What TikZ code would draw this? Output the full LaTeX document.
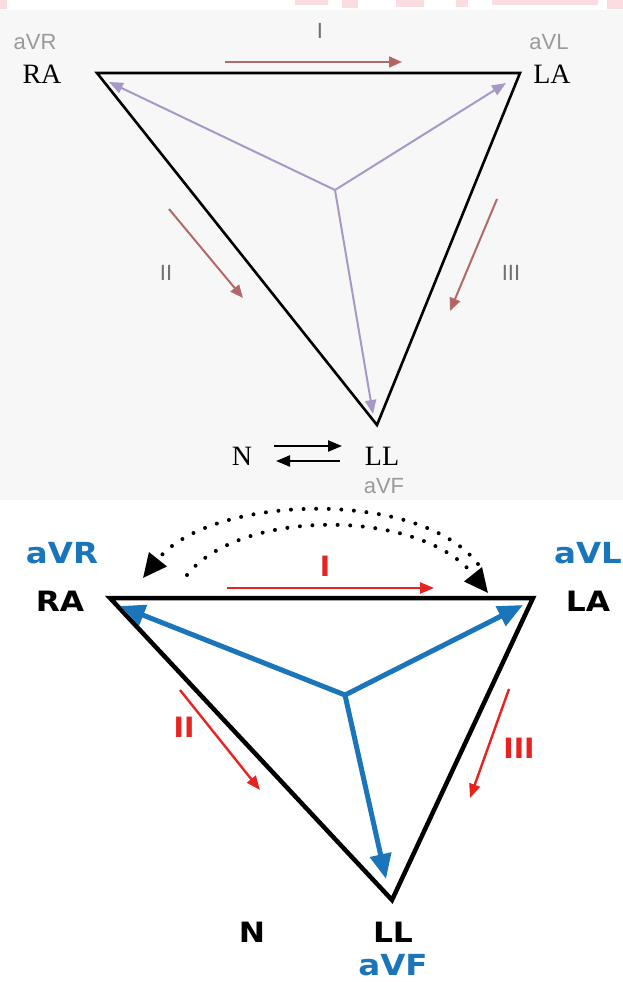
\documentclass[tikz,border=0pt]{standalone}
\usepackage{fontspec}
\setmainfont{Liberation Serif}
\newfontfamily\arialf{Liberation Sans}
\newfontfamily\dvs{DejaVu Sans}
\usetikzlibrary{arrows.meta}
\definecolor{tgray}{HTML}{9A9A9A}
\definecolor{rgray}{HTML}{707070}
\definecolor{brarr}{HTML}{B06A6A}
\definecolor{purp}{HTML}{A898C8}
\definecolor{blu}{HTML}{1B75BB}
\definecolor{redc}{HTML}{E8231F}
\definecolor{pinkwm}{HTML}{FBDCE1}
\tikzset{
  serifl/.style={font=\fontsize{28}{28}\selectfont, text=black, inner sep=0pt},
  sansg/.style={font=\arialf\fontsize{22}{22}\selectfont, text=tgray, inner sep=0pt},
  romg/.style={font=\arialf\fontsize{22}{22}\selectfont, text=rgray, inner sep=0pt},
  boldk/.style={font=\dvs\bfseries\fontsize{28}{28}\selectfont, text=black, inner sep=0pt, xscale=1.12},
  boldb/.style={font=\dvs\bfseries\fontsize{29}{29}\selectfont, text=blu, inner sep=0pt, xscale=1.12},
  boldr/.style={font=\dvs\bfseries\fontsize{28}{28}\selectfont, text=redc, inner sep=0pt, xscale=1.0},
  tri1/.style={draw=black, line width=2.6pt, line join=miter},
  tri2/.style={draw=black, line width=4.5pt, line join=miter},
  brownarr/.style={draw=brarr, line width=2pt, -{Triangle[length=13pt,width=11pt,fill=brarr!90!red]}},
  purarr/.style={draw=purp, line width=2pt, -{Triangle[length=14pt,width=11pt]}},
  smallblk/.style={draw=black, line width=2.2pt, -{Triangle[length=14pt,width=11pt]}},
  redarr/.style={draw=redc, line width=2.4pt, -{Triangle[length=14pt,width=11pt]}},
  bluarr/.style={draw=blu, line width=5pt, -{Triangle[length=25pt,width=21pt]}},
  dotarc/.style={draw=black, line width=4pt, line cap=round, dash pattern=on 0pt off 12.6pt, -{Triangle[length=24pt,width=22pt]}}
}
\begin{document}
\begin{tikzpicture}[x=1pt,y=-1pt]
\useasboundingbox (0,0) rectangle (623,982);
% backgrounds
\fill[white] (0,0) rectangle (623,982);
\fill[gray!6] (0,10) rectangle (623,500);
% watermark fragments
\fill[pinkwm] (0,0) rectangle (7,9);
\fill[pinkwm] (295,0) rectangle (328,5);
\fill[pinkwm] (342,0) rectangle (358,8);
\fill[pinkwm] (396,0) rectangle (424,7);
\fill[pinkwm] (456,0) rectangle (468,7);
\fill[pinkwm] (492,0) rectangle (598,5);
\fill[pinkwm] (607,0) rectangle (623,9);

% ================= TOP PANEL =================
\coordinate (ra1) at (97,73);
\coordinate (la1) at (520,73);
\coordinate (ll1) at (377,425);
\coordinate (c1) at (335,190);
\coordinate (pra) at (109,82);
\coordinate (pla) at (506,83);
\coordinate (pll) at (373,414);
\draw[tri1] (ra1) -- (la1) -- (ll1) -- cycle;
\draw[purarr] (c1) -- (pra);
\draw[purarr] (c1) -- (pla);
\draw[purarr] (c1) -- (pll);

\node[sansg] (aVR1) at (35,42) {aVR};
\node[serifl] (RA1) at (42,74) {RA};
\node[sansg] (aVL1) at (549,42) {aVL};
\node[serifl] (LA1) at (552,74) {LA};
\node[romg] (I1) at (320,31) {I};
\node[romg] (II1) at (166,273) {II};
\node[romg] (III1) at (511,273) {III};

\coordinate (i1s) at (225,62);
\coordinate (i1e) at (402,62);
\draw[brownarr] (i1s) -- (i1e);
\coordinate (ii1s) at (169,209);
\coordinate (ii1e) at (243,298);
\draw[brownarr] (ii1s) -- (ii1e);
\coordinate (iii1s) at (497,199);
\coordinate (iii1e) at (450,311);
\draw[brownarr] (iii1s) -- (iii1e);

\node[serifl] (N1) at (242,456) {N};
\node[serifl] (LL1) at (382,456) {LL};
\node[sansg] (aVF1) at (384,486) {aVF};
\coordinate (nA) at (274,446);
\coordinate (nB) at (342,446);
\coordinate (nC) at (340,461);
\coordinate (nD) at (276,461);
\draw[smallblk] (nA) -- (nB);
\draw[smallblk] (nC) -- (nD);

% ================= BOTTOM PANEL =================
\coordinate (ra2) at (110,598);
\coordinate (la2) at (533,598);
\coordinate (ll2) at (392,900);
\coordinate (c2) at (345,695);
\coordinate (bra) at (120,606);
\coordinate (bla) at (523,605);
\coordinate (bll) at (386,879);
\draw[tri2] (ra2) -- (la2) -- (ll2) -- cycle;
\draw[bluarr] (c2) -- (bra);
\draw[bluarr] (c2) -- (bla);
\draw[bluarr] (c2) -- (bll);

\node[boldb] (aVR2) at (62,553) {aVR};
\node[boldk] (RA2) at (60,601) {RA};
\node[boldb] (aVL2) at (588,553) {aVL};
\node[boldk] (LA2) at (588,601) {LA};
\node[boldr] (I2) at (325,566) {I};
\node[boldr] (II2) at (184,727) {II};
\node[boldr] (III2) at (519,748) {III};
\node[boldk] (N2) at (252,932) {N};
\node[boldk] (LL2) at (393,932) {LL};
\node[boldb] (aVF2) at (393,965) {aVF};

\coordinate (i2s) at (227,588);
\coordinate (i2e) at (434,588);
\draw[redarr] (i2s) -- (i2e);
\coordinate (ii2s) at (180,690);
\coordinate (ii2e) at (260,790);
\draw[redarr] (ii2s) -- (ii2e);
\coordinate (iii2s) at (509,689);
\coordinate (iii2e) at (470,798);
\draw[redarr] (iii2s) -- (iii2e);

% dotted arcs
\coordinate (oa) at (478,564);
\coordinate (ob) at (143,578);
\coordinate (ia) at (187,575);
\coordinate (ib) at (488,593);
\draw[dotarc] (oa) .. controls (420,488) and (210,494) .. (ob);
\draw[dotarc] (ia) .. controls (240,508) and (420,508) .. (ib);
\end{tikzpicture}
\end{document}
